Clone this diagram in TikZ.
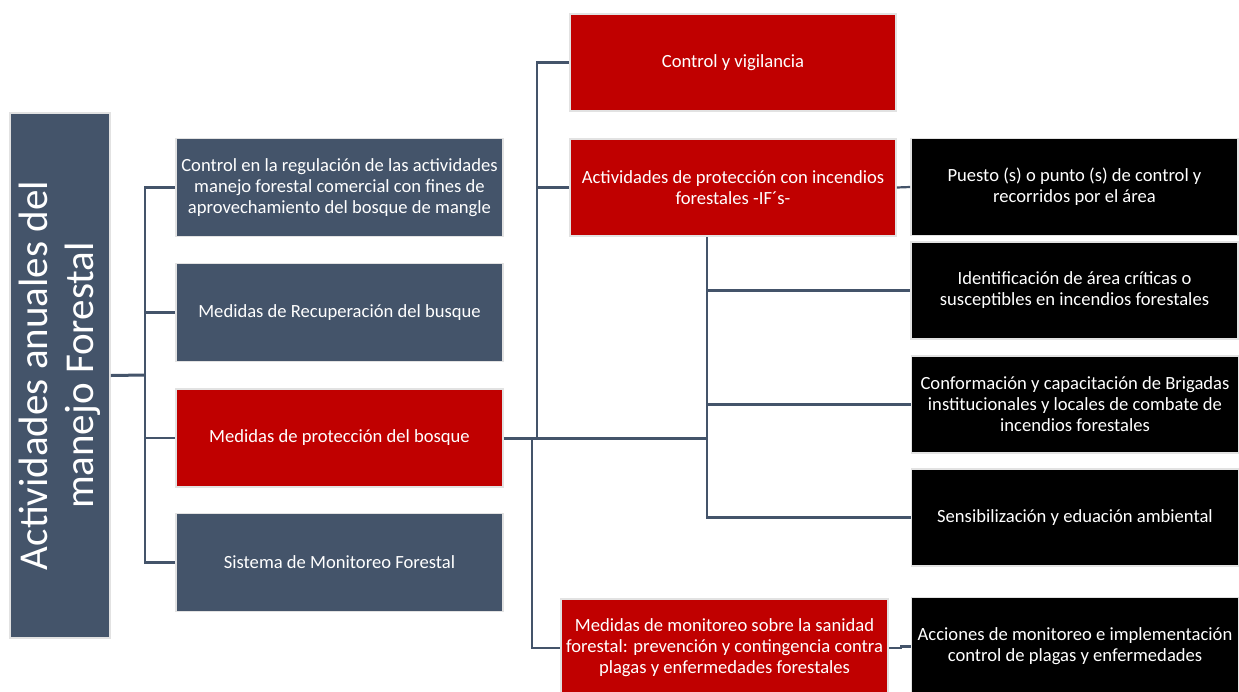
\documentclass[tikz,border=0pt]{standalone}
\usepackage{fontspec}
\setmainfont{Carlito}
\definecolor{slate}{HTML}{44546A}
\definecolor{dred}{HTML}{C00000}
\definecolor{edgegray}{HTML}{E2E2E2}
\begin{document}
\begin{tikzpicture}[x=1pt,y=-1pt,
  box/.style={rectangle, draw=edgegray, line width=1.6pt, inner sep=0pt, text=white, align=center,
    font=\fontsize{18.6}{21}\selectfont, minimum width=327pt, minimum height=98pt},
  greybox/.style={box, fill=slate},
  redbox/.style={box, fill=dred},
  blackbox/.style={box, fill=black},
  conn/.style={draw=slate, line width=2.2pt},
  thickconn/.style={draw=slate, line width=3pt}]
\useasboundingbox (0,0) rectangle (1239,691);
\fill[white] (0,0) rectangle (1239,691);
\clip (0,0) rectangle (1239,691);

% root
\node[greybox, rotate=90, minimum width=525pt, minimum height=100pt,
  font=\fontsize{41}{46}\selectfont] (root) at (60,375.5) {Actividades anuales del\\manejo Forestal};

% level 1
\node[greybox] (c1) at (339.5,187.5) {Control en la regulación de las actividades\\manejo forestal comercial con fines de\\aprovechamiento del bosque de mangle};
\node[greybox] (c2) at (339.5,312.5) {Medidas de Recuperación del busque};
\node[redbox]  (c3) at (339.5,438) {Medidas de protección del bosque};
\node[greybox] (c4) at (339.5,562.5) {Sistema de Monitoreo Forestal};

% level 2
\node[redbox, minimum width=326pt, minimum height=97pt] (cv) at (733,62.5) {Control y vigilancia};
\node[redbox, minimum width=326pt, minimum height=97pt] (ai) at (733,187.5) {Actividades de protección con incendios\\forestales -IF´s-};
\node[redbox] (mm) at (724.5,648) {Medidas de monitoreo sobre la sanidad\\forestal: prevención y contingencia contra\\plagas y enfermedades forestales};

% level 3
\node[blackbox, minimum height=97pt] (pu) at (1074.5,187) {Puesto (s) o punto (s) de control y\\recorridos por el área};
\node[blackbox, minimum height=97pt] (id) at (1074.5,290.5) {Identificación de área críticas o\\susceptibles en incendios forestales};
\node[blackbox, minimum height=97pt] (co) at (1075,404.5) {Conformación y capacitación de Brigadas\\institucionales y locales de combate de\\incendios forestales};
\node[blackbox, minimum height=97pt] (se) at (1075,517.5) {Sensibilización y eduación ambiental};
\node[blackbox] (ac) at (1075,646.5) {Acciones de monitoreo e implementación\\control de plagas y enfermedades};

% bus points
\coordinate (b1) at (145,375);
\coordinate (b2) at (537,438);
\coordinate (b3) at (532,438);
\coordinate (b4) at (707,438);

% root connectors
\draw[thickconn] (root.south) -- (b1);
\draw[conn] (b1) |- (c1.west);
\draw[conn] (b1) |- (c2.west);
\draw[conn] (b1) |- (c3.west);
\draw[conn] (b1) |- (c4.west);

% protection connectors
\draw[thickconn] (c3.east) -- (b4);
\draw[conn] (b2) |- (cv.west);
\draw[conn] (b2) |- (ai.west);
\draw[conn] (b3) |- (mm.west);

% fire connectors
\draw[conn] (ai.east) -- (pu.west);
\draw[conn] (b4 |- ai.south) |- (se.west);
\draw[conn] (b4 |- id.west) -- (id.west);
\draw[conn] (b4 |- co.west) -- (co.west);

% monitoring connector
\draw[conn] (mm.east) -- ++(12,0) |- (ac.west);
\end{tikzpicture}
\end{document}
